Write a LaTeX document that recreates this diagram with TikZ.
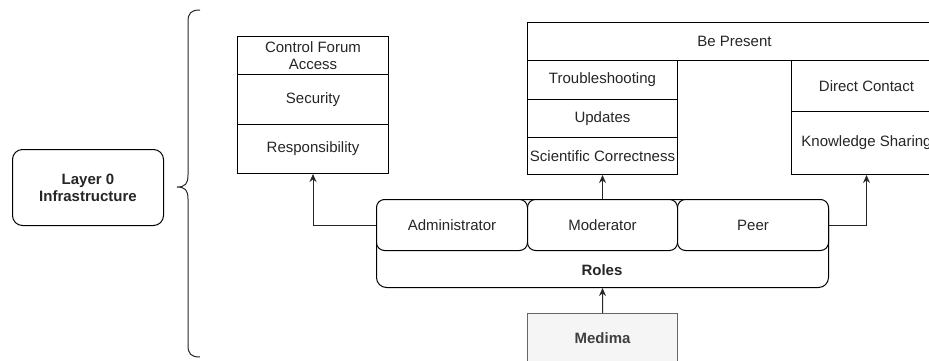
\documentclass[tikz,border=0pt]{standalone}
\usepackage{fontspec}
\setmainfont{Liberation Sans}
\usetikzlibrary{arrows.meta}
\newcommand\boxfont{\fontsize{15bp}{17bp}\selectfont}
\tikzset{
  cell/.style={draw=black, line width=1bp, fill=white, anchor=north west, inner sep=0pt,
    font=\boxfont, align=center, text=black!85},
  rcell/.style={cell, rounded corners=8bp},
  conn/.style={draw=black!85, line width=1bp, -{Stealth[length=8bp,width=7bp]}},
}
\begin{document}
\begin{tikzpicture}[x=1bp,y=-1bp]
\useasboundingbox (0,0) rectangle (929,360);

% layer label and brace
\node[rcell, minimum width=151bp, minimum height=76bp, rounded corners=10bp,
      font=\boxfont\bfseries] (layer) at (12,149) {Layer 0\\Infrastructure};
\draw[line width=1bp, black!85] (200,10) .. controls (191,10) and (188,13) .. (188,22)
  -- (188,175) .. controls (188,184) and (185,187) .. (177,187)
  .. controls (185,187) and (188,190) .. (188,199)
  -- (188,345) .. controls (188,354) and (191,357) .. (200,357);

% administrator column
\node[cell, minimum width=151bp, minimum height=38bp] (cfa) at (237,36) {Control Forum\\Access};
\node[cell, minimum width=151bp, minimum height=50bp] (sec) at (237,74) {Security};
\node[cell, minimum width=151bp, minimum height=49bp] (resp) at (237,124) {Responsibility};

% moderator and peer columns
\node[cell, minimum width=414bp, minimum height=38bp] (present) at (527,22) {Be Present};
\node[cell, minimum width=150bp, minimum height=39bp] (trouble) at (527,60) {Troubleshooting};
\node[cell, minimum width=150bp, minimum height=38bp] (upd) at (527,99) {Updates};
\node[cell, minimum width=150bp, minimum height=37bp] (sci) at (527,137) {Scientific Correctness};
\node[cell, minimum width=150bp, minimum height=51bp] (direct) at (791,60) {Direct Contact};
\node[cell, minimum width=150bp, minimum height=63bp] (know) at (791,111) {Knowledge Sharing};

% roles container
\node[rcell, minimum width=452bp, minimum height=88bp, rounded corners=10bp] (roles) at (376,199) {};
\node[font=\boxfont\bfseries, text=black!85] (roleslbl) at (602,270) {Roles};
\node[rcell, minimum width=151bp, minimum height=51bp] (admin) at (376,199) {Administrator};
\node[rcell, minimum width=150bp, minimum height=51bp] (mod) at (527,199) {Moderator};
\node[rcell, minimum width=151bp, minimum height=51bp] (peer) at (677,199) {Peer};

% platform
\node[cell, fill=black!4, draw=black!60, minimum width=150bp, minimum height=50bp,
      font=\boxfont\bfseries, text=black!75] (medima) at (527,313) {Medima};

% connectors
\draw[conn] (medima.north) -- (roles.south);
\draw[conn] (mod.north) -- (sci.south);
\draw[conn] (admin.west) -| (resp.south);
\draw[conn] (peer.east) -| (know.south);
\end{tikzpicture}
\end{document}
